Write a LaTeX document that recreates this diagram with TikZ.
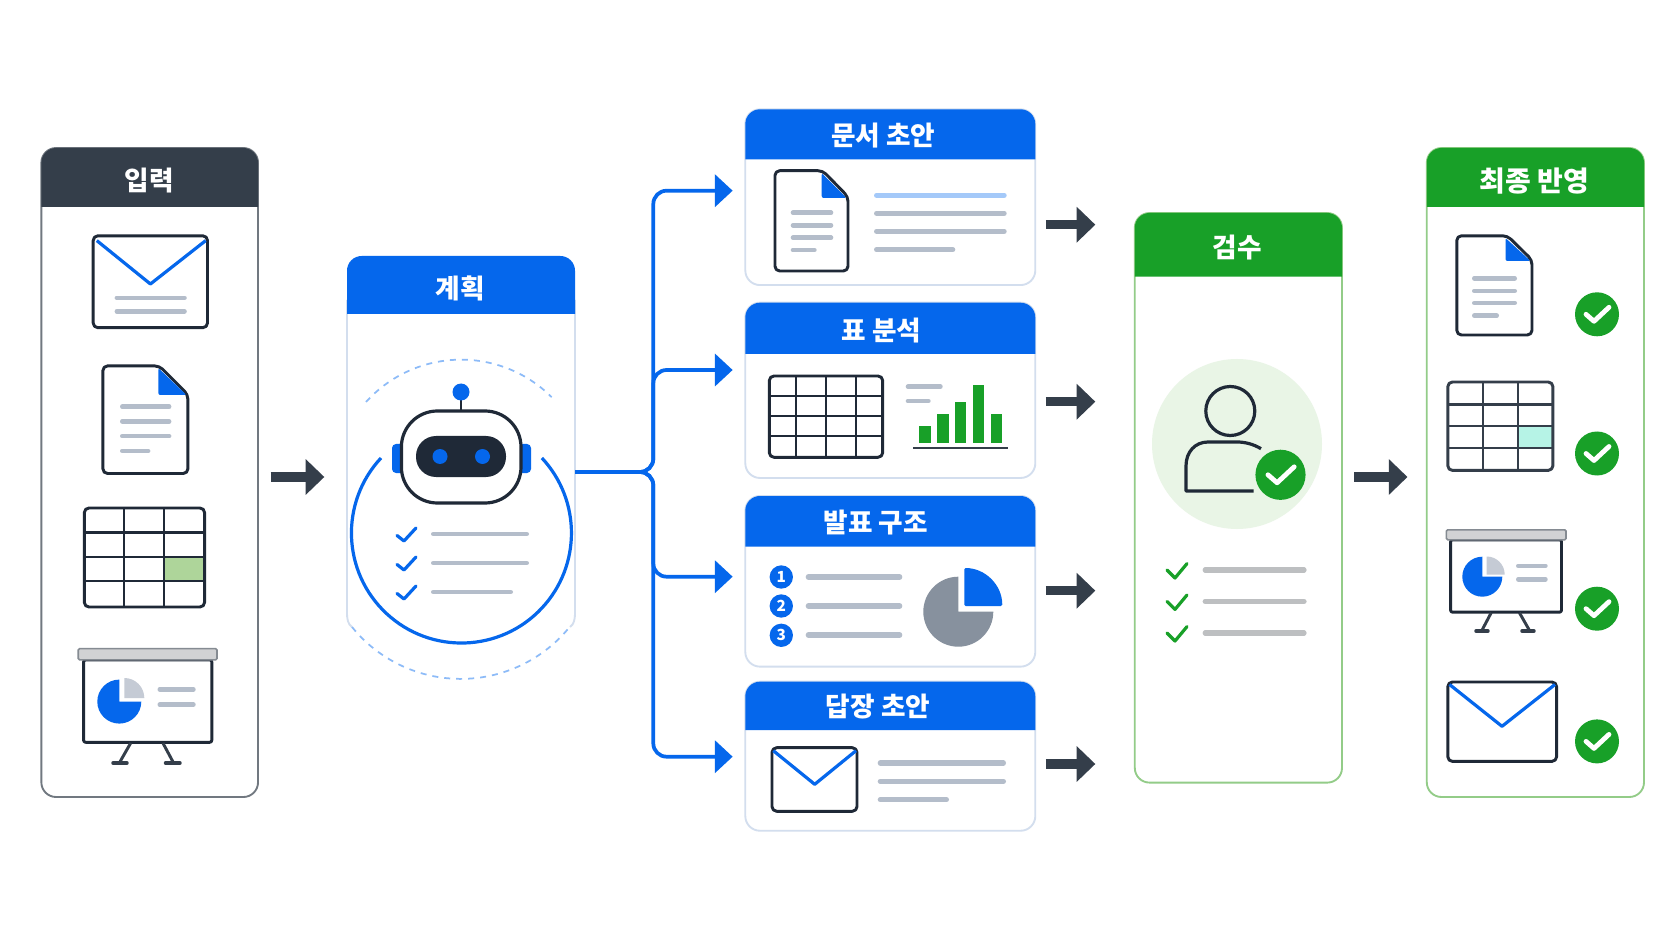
\documentclass[tikz,border=0pt]{standalone}
\usepackage{fontspec}
\setmainfont{Noto Sans CJK KR}
\usetikzlibrary{arrows.meta}
\definecolor{slatehd}{HTML}{343E4A}
\definecolor{inkdark}{HTML}{1F2937}
\definecolor{bluehd}{HTML}{0567EC}
\definecolor{greenhd}{HTML}{18A028}
\definecolor{barline}{HTML}{B4BDCA}
\definecolor{greyline}{HTML}{BDBFC1}
\definecolor{lightedge}{HTML}{D3DEEE}
\definecolor{greenedge}{HTML}{93CC88}
\definecolor{dashblue}{HTML}{8DBBF8}
\definecolor{piegrey}{HTML}{C5CBD5}
\definecolor{piedark}{HTML}{87919E}
\definecolor{cellgreen}{HTML}{AED59A}
\definecolor{cellmint}{HTML}{B6F3E6}
\definecolor{haloleaf}{HTML}{E9F5E6}
\tikzset{
  panelbox/.style={draw,rounded corners=11pt,fill=white,line width=1.4pt,inner sep=0pt},
  headtext/.style={text=white,inner sep=0.75pt,font=\bfseries\fontsize{20}{24}\selectfont},
  darkflow/.style={draw=slatehd,line width=7pt,-{Triangle[length=14pt,width=26pt,fill=slatehd]}},
  blueflow/.style={draw=bluehd,line width=2.8pt,rounded corners=10pt,shorten >=8.8pt,-{Triangle[length=13.3pt,width=24pt,fill=bluehd]}},
  iconline/.style={draw=inkdark,line width=2.2pt,rounded corners=3.5pt,fill=white,line join=round},
  gridline/.style={draw=inkdark,line width=1.7pt},
  textbar/.style={draw=barline,line width=3.8pt,line cap=round,shorten <=1.9pt,shorten >=1.9pt},
  thinbar/.style={draw=barline,line width=3.4pt,line cap=round,shorten <=1.7pt,shorten >=1.7pt},
  vflap/.style={draw=bluehd,line width=2.4pt,line join=round},
  bluetick/.style={draw=bluehd,line width=2.4pt,line cap=round,line join=round},
  greentick/.style={draw=greenhd,line width=2.4pt,line cap=round,line join=round},
  numdot/.style={circle,fill=bluehd,text=white,inner sep=0pt,minimum size=17.5pt,font=\bfseries\fontsize{11.5}{12}\selectfont},
  okbadge/.pic={\fill[greenhd] (0,0) circle (22); \draw[white,line width=3.6pt,line cap=round,line join=round] (-11,0) -- (-3,-7) -- (12,7);}
}
\begin{document}
\begin{tikzpicture}[x=0.75pt,y=0.75pt,yscale=-1,xscale=1]
\useasboundingbox (0,0) rectangle (1672,941);
\fill[white] (0,0) rectangle (1672,941);

%Shape: input panel
\node[panelbox,draw=slatehd!70,minimum width=162.5pt,minimum height=486.75pt] (input) at (149.7,472.5) {};
\fill[slatehd] (41.4,207) [rounded corners=11pt] -- (41.4,148) -- (258,148) [sharp corners] -- (258,207) -- cycle;
% Text Node
\node[headtext] (inputtitle) at (149,181) {입력};
%Shape: mail
\draw[iconline] (93.2,235.8) rectangle (207.5,327.7);
\draw[vflap] (96.8,240.6) -- (150.4,284) -- (205.7,240.6);
\draw[thinbar] (114.6,297.8) -- (186.8,297.8);
\draw[thinbar] (114.6,311.3) -- (186.8,311.3);
%Shape: document
\draw[iconline] (102.9,365.9) -- (159.3,365.9) -- (187.9,394.5) -- (187.9,473.5) -- (102.9,473.5) -- cycle;
\fill[bluehd,rounded corners=1.5pt] (158.3,368) -- (186.5,395) -- (158.3,395) -- cycle;
\draw[thinbar] (120,406.7) -- (171.4,406.7);
\draw[thinbar] (120,421.4) -- (171.4,421.4);
\draw[thinbar] (120,436.2) -- (171.4,436.2);
\draw[thinbar] (120,450.9) -- (150.4,450.9);
%Shape: table
\fill[cellgreen] (163.9,556.7) rectangle (204.6,581);
\draw[iconline,fill=none] (84.3,508) rectangle (204.6,607);
\draw[gridline] (124.3,508) -- (124.3,607);
\draw[gridline] (163.9,508) -- (163.9,607);
\draw[gridline] (84.3,532.4) -- (204.6,532.4);
\draw[gridline] (84.3,556.7) -- (204.6,556.7);
\draw[gridline] (84.3,581) -- (204.6,581);
%Shape: screen
\draw[iconline,rounded corners=1.5pt] (83.6,659.9) rectangle (211.8,742.3);
\draw[draw=slatehd!60,fill=greyline!70,line width=1.2pt,rounded corners=1pt] (78.2,648.6) rectangle (217,659.9);
\fill[piegrey] (124.3,698) -- ++(0,-20) arc[start angle=270,end angle=360,radius=20] -- cycle;
\fill[bluehd] (119.3,701.6) -- ++(0,-22) arc[start angle=270,end angle=0,radius=22] -- cycle;
\draw[thinbar] (157.5,689.4) -- (195.7,689.4);
\draw[thinbar] (157.5,704.6) -- (195.7,704.6);
\draw[draw=slatehd,line width=2.2pt] (130.7,743) -- (119.3,763);
\draw[draw=slatehd,line width=2.2pt] (162.9,743) -- (173.6,763);
\draw[draw=slatehd,line width=2.6pt,line cap=round] (113,763) -- (127,763);
\draw[draw=slatehd,line width=2.6pt,line cap=round] (165.5,763) -- (180,763);

%Shape: plan panel
\node[minimum width=171pt,minimum height=288pt,inner sep=0pt] (plan) at (461,448) {};
\draw[draw=lightedge,line width=1.4pt] (347,300) -- (347,612) .. controls (347,620) and (348,624) .. (352,627);
\draw[draw=lightedge,line width=1.4pt] (575,300) -- (575,612) .. controls (575,620) and (574,624) .. (570,627);
\fill[bluehd] (347,314) [rounded corners=11pt] -- (347,256) -- (575,256) [sharp corners] -- (575,314) -- cycle;
% Text Node
\node[headtext] (plantitle) at (460.5,288) {계획};
%Shape: dashed rings
\draw[draw=dashblue,line width=1.3pt,dash pattern={on 4.5pt off 4.5pt}] (366,402) arc[start angle=222,end angle=315,radius=128];
\draw[draw=dashblue,line width=1.3pt,dash pattern={on 4.5pt off 4.5pt}] (352,627) arc[start angle=141,end angle=39,radius=140];
\draw[draw=bluehd,line width=2.4pt] (381,458) arc[start angle=223,end angle=-43,radius=110];
%Shape: robot
\fill[bluehd,rounded corners=3pt] (392,444) rectangle (406,473);
\fill[bluehd,rounded corners=3pt] (516,444) rectangle (531,473);
\draw[draw=inkdark,line width=2.2pt] (461,392) -- (461,411);
\fill[bluehd] (461,392) circle (8.5);
\draw[draw=inkdark,line width=2.4pt,fill=white,rounded corners=27pt] (401.4,411) rectangle (521,503);
\fill[inkdark,rounded corners=15pt] (416,436) rectangle (506,477);
\fill[bluehd] (440,456.5) circle (7.5);
\fill[bluehd] (482.5,456.5) circle (7.5);
%Shape: task list
\draw[bluetick] (397,535.5) -- (404,541) -- (416,528);
\draw[bluetick] (397,564.5) -- (404,570) -- (416,557);
\draw[bluetick] (397,593.5) -- (404,599) -- (416,586);
\draw[thinbar] (431,534) -- (529,534);
\draw[thinbar] (431,563) -- (529,563);
\draw[thinbar] (431,592) -- (513,592);

%Shape: document card
\node[panelbox,draw=lightedge,minimum width=217.5pt,minimum height=131.8pt] (docard) at (890.3,197.2) {};
\fill[bluehd] (745.3,159.3) [rounded corners=11pt] -- (745.3,109.3) -- (1035.3,109.3) [sharp corners] -- (1035.3,159.3) -- cycle;
% Text Node
\node[headtext] (doctitle) at (883.3,136) {문서 초안};
\draw[iconline] (775,170.7) -- (822.7,170.7) -- (848,196.7) -- (848,271) -- (775,271) -- cycle;
\fill[bluehd,rounded corners=1.5pt] (821.7,173) -- (846.5,198) -- (821.7,198) -- cycle;
\draw[thinbar] (790.7,212.7) -- (833.3,212.7);
\draw[thinbar] (790.7,225.3) -- (833.3,225.3);
\draw[thinbar] (790.7,237.7) -- (833.3,237.7);
\draw[thinbar] (790.7,250) -- (816.7,250);
\draw[textbar,draw=dashblue!80] (874,195.3) -- (1006.7,195.3);
\draw[textbar] (874,213.3) -- (1006.7,213.3);
\draw[textbar] (874,231.3) -- (1006.7,231.3);
\draw[textbar] (874,249.7) -- (955.3,249.7);

%Shape: table card
\node[panelbox,draw=lightedge,minimum width=217.5pt,minimum height=131.5pt] (tabcard) at (890.3,390.3) {};
\fill[bluehd] (745.3,354) [rounded corners=11pt] -- (745.3,302.7) -- (1035.3,302.7) [sharp corners] -- (1035.3,354) -- cycle;
% Text Node
\node[headtext] (tabtitle) at (881.3,331) {표 분석};
\draw[iconline,fill=none] (769.3,376) rectangle (882.7,457.3);
\draw[gridline] (796,376) -- (796,457.3);
\draw[gridline] (826,376) -- (826,457.3);
\draw[gridline] (856,376) -- (856,457.3);
\draw[gridline] (769.3,396) -- (882.7,396);
\draw[gridline] (769.3,416) -- (882.7,416);
\draw[gridline] (769.3,436) -- (882.7,436);
\draw[thinbar] (905.7,386.7) -- (942.7,386.7);
\draw[thinbar] (905.7,401) -- (930.7,401);
\fill[greenhd] (919.3,426) rectangle (930.7,442.7);
\fill[greenhd] (937.3,414.3) rectangle (948.7,442.7);
\fill[greenhd] (955.3,402.3) rectangle (966.3,442.7);
\fill[greenhd] (973,385) rectangle (984,442.7);
\fill[greenhd] (991,414.3) rectangle (1002,442.7);
\draw[draw=slatehd,line width=1.8pt] (913.3,448.3) -- (1008.3,448.3);

%Shape: slides card
\node[panelbox,draw=lightedge,minimum width=217.5pt,minimum height=128pt] (slidecard) at (890.3,581.3) {};
\fill[bluehd] (745.3,546.7) [rounded corners=11pt] -- (745.3,496) -- (1035.3,496) [sharp corners] -- (1035.3,546.7) -- cycle;
% Text Node
\node[headtext] (slidetitle) at (875.8,523) {발표 구조};
\node[numdot] (numa) at (781.3,577) {1};
\node[numdot] (numb) at (781.3,606) {2};
\node[numdot] (numc) at (781.3,635.3) {3};
\draw[textbar] (805.7,577) -- (902.3,577);
\draw[textbar] (805.7,606) -- (902.3,606);
\draw[textbar] (805.7,635) -- (902.3,635);
\fill[piedark] (958.3,611.7) -- ++(0,-35) arc[start angle=270,end angle=0,radius=35] -- cycle;
\fill[bluehd,rounded corners=1pt] (964.3,606) -- ++(38,0) arc[start angle=0,end angle=-90,radius=38] -- cycle;

%Shape: reply card
\node[panelbox,draw=lightedge,minimum width=217.5pt,minimum height=111.8pt] (mailcard) at (890.3,756.2) {};
\fill[bluehd] (745.3,730) [rounded corners=11pt] -- (745.3,681.7) -- (1035.3,681.7) [sharp corners] -- (1035.3,730) -- cycle;
% Text Node
\node[headtext] (mailtitle) at (878,707) {답장 초안};
\draw[iconline] (772,747.7) rectangle (857,811.3);
\draw[vflap] (773.3,750.7) -- (814.7,784.3) -- (856,750.7);
\draw[textbar] (877.7,763) -- (1006,763);
\draw[textbar] (877.7,781.3) -- (1006,781.3);
\draw[textbar] (877.7,799.7) -- (949,799.7);

%Shape: review panel
\node[panelbox,draw=greenedge,minimum width=155.4pt,minimum height=427.2pt] (review) at (1238.4,497.8) {};
\fill[greenhd] (1134.8,276.6) [rounded corners=11pt] -- (1134.8,213) -- (1342,213) [sharp corners] -- (1342,276.6) -- cycle;
% Text Node
\node[headtext] (reviewtitle) at (1237,248) {검수};
\fill[haloleaf] (1237,444) circle (85);
\draw[draw=inkdark,line width=2.4pt] (1230.3,411) circle (24.5);
\draw[draw=inkdark,line width=2.4pt,line join=round] (1261,448.7) .. controls (1253,444) and (1245,442) .. (1237,442) -- (1208,442) .. controls (1195,442) and (1186,452) .. (1186,466) -- (1186,491) -- (1253.6,491);
\pic (reviewok) at (1280.5,474.8) [scale=1.14] {okbadge};
\draw[greentick] (1167,570) -- (1175,578) -- (1187,563.6);
\draw[greentick] (1167,601.4) -- (1175,609.4) -- (1187,595);
\draw[greentick] (1167,633) -- (1175,641) -- (1187,626.6);
\draw[textbar,draw=greyline] (1202.6,570) -- (1306.6,570);
\draw[textbar,draw=greyline] (1202.6,601.4) -- (1306.6,601.4);
\draw[textbar,draw=greyline] (1202.6,633) -- (1306.6,633);

%Shape: final panel
\node[panelbox,draw=greenedge,minimum width=162.9pt,minimum height=486.75pt] (final) at (1535.4,472.5) {};
\fill[greenhd] (1426.8,207) [rounded corners=11pt] -- (1426.8,148) -- (1644,148) [sharp corners] -- (1644,207) -- cycle;
% Text Node
\node[headtext,font=\bfseries\fontsize{21}{24}\selectfont] (finaltitle) at (1534.5,181) {최종 반영};
%Shape: document
\draw[iconline] (1456.8,235.8) -- (1507.4,235.8) -- (1532,260) -- (1532,335) -- (1456.8,335) -- cycle;
\fill[bluehd,rounded corners=1.5pt] (1505.5,238) -- (1530.5,261) -- (1505.5,261) -- cycle;
\draw[thinbar] (1472,278.3) -- (1517,278.3);
\draw[thinbar] (1472,290.9) -- (1517,290.9);
\draw[thinbar] (1472,303) -- (1517,303);
\draw[thinbar] (1472,315.6) -- (1499,315.6);
\pic (finalokdoc) at (1597,314.3) {okbadge};
%Shape: table
\fill[cellmint] (1517.7,425.7) rectangle (1552.9,447.9);
\draw[iconline,fill=none,draw=slatehd] (1447.8,382) rectangle (1552.9,470.4);
\draw[gridline,draw=slatehd] (1483,382) -- (1483,470.4);
\draw[gridline,draw=slatehd] (1517.7,382) -- (1517.7,470.4);
\draw[gridline,draw=slatehd] (1447.8,404.5) -- (1552.9,404.5);
\draw[gridline,draw=slatehd] (1447.8,425.7) -- (1552.9,425.7);
\draw[gridline,draw=slatehd] (1447.8,447.9) -- (1552.9,447.9);
\pic (finaloktab) at (1597,453.5) {okbadge};
%Shape: screen
\draw[iconline,rounded corners=1.5pt] (1450.6,539.8) rectangle (1561.5,612.2);
\draw[draw=slatehd!60,fill=greyline!70,line width=1.2pt,rounded corners=1pt] (1446.4,529.8) rectangle (1566,539.8);
\fill[piegrey] (1486.7,574.5) -- ++(0,-18) arc[start angle=270,end angle=360,radius=18] -- cycle;
\fill[bluehd] (1482.3,576.7) -- ++(0,-20) arc[start angle=270,end angle=0,radius=20] -- cycle;
\draw[thinbar] (1516,565.8) -- (1547.7,565.8);
\draw[thinbar] (1516,579.3) -- (1547.7,579.3);
\draw[draw=slatehd,line width=2.2pt] (1491.2,612.7) -- (1481.6,631);
\draw[draw=slatehd,line width=2.2pt] (1519.4,612.7) -- (1529.8,631);
\draw[draw=slatehd,line width=2.6pt,line cap=round] (1476,631) -- (1488,631);
\draw[draw=slatehd,line width=2.6pt,line cap=round] (1522,631) -- (1534,631);
\pic (finalokslide) at (1597,608.7) {okbadge};
%Shape: mail
\draw[iconline] (1447.8,682) rectangle (1556.6,761.4);
\draw[vflap] (1449.5,684.5) -- (1502,726.3) -- (1555,684.5);
\pic (finalokmail) at (1597,741.4) {okbadge};

%Straight Lines
\draw[darkflow,shorten <=8.75pt,shorten >=16.8pt] (input.east |- 0,477) -- (plan.west |- 0,477);
\draw[darkflow,shorten <=7.2pt,shorten >=28.9pt] (docard.east |- 0,224.7) -- (review.west |- 0,224.7);
\draw[darkflow,shorten <=7.2pt,shorten >=28.9pt] (tabcard.east |- 0,401.7) -- (review.west |- 0,401.7);
\draw[darkflow,shorten <=7.2pt,shorten >=28.9pt] (slidecard.east |- 0,590.7) -- (review.west |- 0,590.7);
\draw[darkflow,shorten <=7.2pt,shorten >=28.9pt] (mailcard.east |- 0,764) -- (review.west |- 0,764);
\draw[darkflow,shorten <=8.4pt,shorten >=13.8pt] (review.east |- 0,477) -- (final.west |- 0,477);
%Connector
\coordinate (fork) at (653.3,472);
\draw[blueflow] (plan.east |- fork) -- (fork) |- (docard.west |- 0,190.7);
\draw[blueflow] (plan.east |- fork) -- (fork) |- (tabcard.west |- 0,370);
\draw[blueflow] (plan.east |- fork) -- (fork) |- (slidecard.west |- 0,576.7);
\draw[blueflow] (plan.east |- fork) -- (fork) |- (mailcard.west |- 0,756.7);

\end{tikzpicture}
\end{document}
